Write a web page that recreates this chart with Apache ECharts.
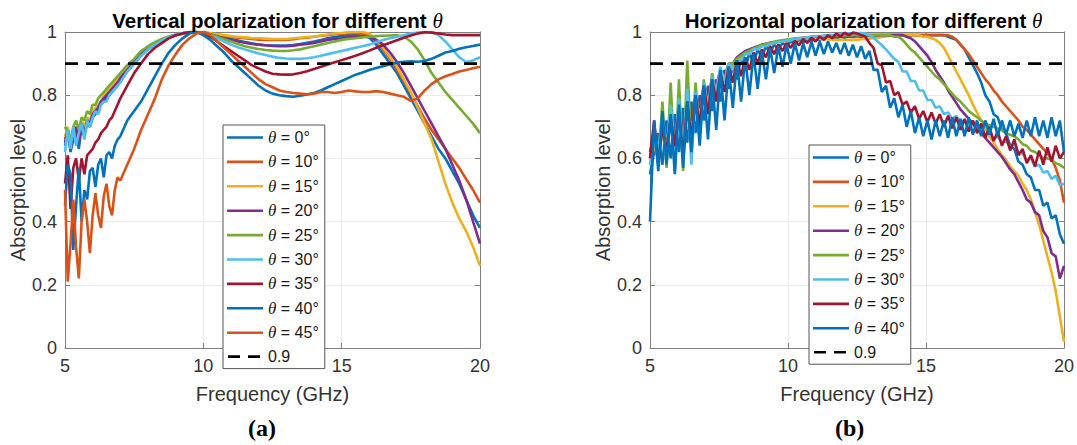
<!DOCTYPE html>
<html><head><meta charset="utf-8">
<script src="https://cdn.jsdelivr.net/npm/echarts@6/dist/echarts.min.js"></script>
<style>html,body{margin:0;padding:0;background:#fff}#c{width:1077px;height:445px}</style>
</head><body><div id="c"></div>
<script>
// ---------- data ----------
const xTicks = [5, 10, 15, 20];
const yTicks = [0, 0.2, 0.4, 0.6, 0.8, 1];
const threshold = 0.9;
const thetaV = ['0', '10', '15', '20', '25', '30', '35', '40', '45'];
const thetaH = ['0', '10', '15', '20', '25', '30', '35', '40'];

const freqV = [5,5.1,5.2,5.3,5.4,5.5,5.6,5.7,5.8,5.9,6,6.1,6.2,6.3,6.4,6.5,6.6,6.7,6.8,6.9,7,
  7.25,7.5,7.75,8,8.25,8.5,8.75,9,9.25,9.5,9.75,10,
  10.25,10.5,10.75,11,11.25,11.5,11.75,12,12.25,12.5,12.75,13,
  13.25,13.5,13.75,14,14.25,14.5,14.75,15,15.25,15.5,15.75,16,
  16.25,16.5,16.75,17,17.25,17.5,17.75,18,18.25,18.5,18.75,19,
  19.25,19.5,19.75,20];
const freqH = Array.from({length: 101}, (_, i) => +(5 + i * 0.15).toFixed(2));

const V0 = [0.64,0.68,0.62,0.66,0.68,0.63,0.70,0.67,0.71,0.70,0.73,0.74,0.76,0.77,0.78,0.79,0.80,0.81,0.82,0.83,0.845,
  0.875,0.90,0.925,0.945,0.96,0.972,0.983,0.99,0.996,1.0,1.0,0.997,
  0.993,0.988,0.983,0.978,0.973,0.968,0.964,0.96,0.958,0.957,0.957,0.957,
  0.959,0.962,0.966,0.97,0.975,0.98,0.984,0.987,0.99,0.99,0.99,0.982,
  0.96,0.93,0.90,0.87,0.83,0.79,0.75,0.71,0.67,0.63,0.60,0.56,
  0.52,0.47,0.42,0.38];
const V10 = [0.66,0.69,0.64,0.68,0.70,0.66,0.71,0.69,0.72,0.71,0.74,0.75,0.76,0.78,0.79,0.80,0.81,0.82,0.83,0.84,0.85,
  0.88,0.905,0.93,0.948,0.962,0.973,0.982,0.99,0.995,0.998,1.0,1.0,
  0.996,0.992,0.988,0.985,0.982,0.98,0.978,0.976,0.975,0.975,0.975,0.975,
  0.977,0.98,0.982,0.985,0.988,0.99,0.993,0.995,0.996,0.996,0.995,0.99,
  0.97,0.945,0.915,0.88,0.845,0.805,0.765,0.725,0.69,0.66,0.63,0.60,
  0.57,0.535,0.50,0.46];
const V15 = [0.67,0.70,0.65,0.69,0.70,0.67,0.72,0.70,0.73,0.72,0.75,0.76,0.77,0.78,0.80,0.81,0.82,0.83,0.84,0.85,0.86,
  0.885,0.91,0.935,0.95,0.965,0.975,0.985,0.99,0.995,1.0,1.0,0.999,
  0.996,0.993,0.99,0.987,0.985,0.983,0.981,0.98,0.979,0.978,0.978,0.978,
  0.98,0.982,0.984,0.986,0.989,0.992,0.995,0.997,0.999,1.0,1.0,0.995,
  0.975,0.95,0.92,0.89,0.85,0.81,0.76,0.71,0.66,0.59,0.52,0.46,
  0.41,0.37,0.32,0.26];
const V20 = [0.65,0.69,0.63,0.67,0.70,0.65,0.71,0.68,0.72,0.71,0.74,0.75,0.76,0.78,0.79,0.80,0.81,0.82,0.83,0.84,0.855,
  0.88,0.905,0.93,0.948,0.962,0.973,0.982,0.99,0.995,0.999,1.0,0.998,
  0.993,0.986,0.98,0.975,0.97,0.966,0.962,0.96,0.958,0.956,0.955,0.955,
  0.957,0.96,0.962,0.965,0.97,0.975,0.978,0.98,0.983,0.985,0.985,0.985,
  0.975,0.96,0.935,0.905,0.87,0.83,0.79,0.75,0.71,0.67,0.63,0.58,
  0.53,0.47,0.40,0.33];
const V25 = [0.70,0.68,0.66,0.70,0.72,0.69,0.73,0.72,0.75,0.74,0.77,0.77,0.79,0.80,0.81,0.82,0.83,0.84,0.85,0.86,0.87,
  0.895,0.915,0.94,0.955,0.968,0.978,0.986,0.992,0.996,1.0,1.0,0.998,
  0.992,0.985,0.977,0.97,0.962,0.955,0.95,0.946,0.943,0.941,0.94,0.94,
  0.942,0.945,0.95,0.955,0.96,0.965,0.97,0.975,0.978,0.98,0.983,0.985,
  0.987,0.988,0.989,0.99,0.985,0.97,0.945,0.91,0.87,0.84,0.81,0.785,
  0.76,0.735,0.71,0.68];
const V30 = [0.62,0.69,0.63,0.70,0.64,0.68,0.71,0.66,0.72,0.70,0.73,0.75,0.74,0.77,0.78,0.78,0.80,0.81,0.82,0.83,0.84,
  0.875,0.90,0.925,0.945,0.96,0.973,0.984,0.992,0.997,1.0,1.0,0.995,
  0.988,0.98,0.97,0.96,0.952,0.945,0.938,0.932,0.927,0.922,0.918,0.916,
  0.915,0.915,0.917,0.92,0.925,0.93,0.935,0.94,0.945,0.95,0.955,0.96,
  0.968,0.975,0.98,0.985,0.99,0.995,0.998,1.0,1.0,0.99,0.97,0.945,
  0.92,0.905,0.91,0.92];
const V35 = [0.52,0.61,0.44,0.57,0.60,0.53,0.60,0.55,0.61,0.62,0.63,0.65,0.66,0.68,0.69,0.70,0.72,0.73,0.75,0.77,0.79,
  0.83,0.87,0.90,0.93,0.95,0.965,0.98,0.99,0.995,1.0,1.0,0.995,
  0.985,0.97,0.955,0.94,0.925,0.91,0.895,0.885,0.875,0.868,0.866,0.865,
  0.866,0.87,0.876,0.883,0.89,0.897,0.904,0.911,0.918,0.925,0.933,0.941,
  0.95,0.958,0.966,0.974,0.982,0.989,0.995,0.999,0.998,0.995,0.992,0.99,
  0.99,0.99,0.99,0.99];
const V40 = [0.45,0.58,0.55,0.31,0.45,0.57,0.40,0.50,0.47,0.56,0.57,0.51,0.58,0.60,0.54,0.61,0.62,0.60,0.64,0.66,0.67,
  0.72,0.75,0.78,0.82,0.86,0.90,0.935,0.96,0.98,0.995,1.0,0.99,
  0.975,0.955,0.935,0.91,0.89,0.87,0.85,0.83,0.815,0.805,0.80,0.797,
  0.795,0.798,0.802,0.807,0.815,0.825,0.835,0.845,0.855,0.865,0.872,0.88,
  0.886,0.892,0.898,0.903,0.906,0.907,0.906,0.908,0.915,0.925,0.935,0.94,
  0.947,0.952,0.956,0.96];
const V45 = [0.50,0.21,0.33,0.47,0.32,0.22,0.40,0.47,0.40,0.30,0.42,0.49,0.42,0.38,0.48,0.52,0.45,0.42,0.50,0.54,0.53,
  0.58,0.63,0.69,0.74,0.79,0.85,0.895,0.93,0.96,0.98,0.995,1.0,
  0.99,0.97,0.95,0.93,0.91,0.89,0.87,0.85,0.835,0.825,0.815,0.81,
  0.807,0.805,0.803,0.805,0.81,0.81,0.807,0.81,0.815,0.812,0.81,0.81,
  0.813,0.81,0.805,0.80,0.795,0.782,0.79,0.815,0.835,0.85,0.86,0.867,
  0.875,0.88,0.885,0.89];

const H0 = [
  0.55,0.62,0.68,0.58,0.72,0.60,0.74,0.62,0.76,0.65,
  0.78,0.68,0.80,0.72,0.83,0.75,0.85,0.78,0.88,0.82,
  0.90,0.85,0.92,0.88,0.935,0.90,0.945,0.92,0.955,0.935,
  0.96,0.945,0.965,0.955,0.97,0.962,0.975,0.968,0.978,0.972,
  0.98,0.975,0.982,0.978,0.984,0.98,0.985,0.982,0.986,0.984,
  0.987,0.985,0.988,0.987,0.989,0.988,0.99,0.989,0.99,0.99,
  0.99,0.99,0.99,0.99,0.99,0.99,0.99,0.99,0.99,0.99,
  0.99,0.99,0.985,0.98,0.975,0.96,0.945,0.92,0.895,0.87,
  0.84,0.80,0.78,0.74,0.73,0.69,0.68,0.64,0.63,0.59,
  0.58,0.55,0.54,0.50,0.50,0.45,0.46,0.41,0.42,0.36,
  0.33];
const H10 = [
  0.60,0.66,0.62,0.70,0.64,0.72,0.66,0.74,0.69,0.76,
  0.72,0.79,0.75,0.82,0.79,0.84,0.83,0.87,0.86,0.89,
  0.90,0.91,0.925,0.93,0.94,0.945,0.95,0.955,0.96,0.963,
  0.966,0.969,0.972,0.974,0.976,0.978,0.98,0.981,0.982,0.983,
  0.984,0.985,0.986,0.987,0.988,0.988,0.989,0.989,0.99,0.99,
  0.99,0.99,0.99,0.99,0.99,0.99,0.99,0.99,0.99,0.99,
  0.99,0.99,0.99,0.99,0.99,0.99,0.99,0.99,0.99,0.99,
  0.99,0.99,0.99,0.985,0.975,0.96,0.945,0.93,0.91,0.89,
  0.87,0.85,0.835,0.815,0.80,0.78,0.765,0.75,0.735,0.72,
  0.70,0.69,0.675,0.66,0.645,0.63,0.615,0.60,0.57,0.53,
  0.46];
const H15 = [
  0.58,0.64,0.60,0.68,0.63,0.71,0.65,0.73,0.68,0.75,
  0.71,0.78,0.74,0.81,0.78,0.84,0.82,0.86,0.85,0.885,
  0.895,0.905,0.92,0.93,0.94,0.945,0.95,0.955,0.96,0.962,
  0.965,0.968,0.97,0.972,0.974,0.976,0.977,0.978,0.979,0.98,
  0.98,0.979,0.978,0.977,0.976,0.975,0.975,0.975,0.975,0.975,
  0.976,0.977,0.978,0.979,0.98,0.982,0.984,0.986,0.988,0.99,
  0.99,0.99,0.99,0.99,0.99,0.99,0.985,0.985,0.98,0.975,
  0.965,0.95,0.925,0.90,0.875,0.85,0.825,0.80,0.77,0.745,
  0.72,0.695,0.67,0.65,0.63,0.61,0.595,0.575,0.56,0.545,
  0.52,0.50,0.47,0.43,0.39,0.34,0.29,0.24,0.18,0.10,
  0.02];
const H20 = [
  0.62,0.68,0.60,0.72,0.63,0.74,0.66,0.76,0.68,0.78,
  0.72,0.80,0.76,0.83,0.80,0.85,0.83,0.88,0.86,0.90,
  0.90,0.92,0.93,0.94,0.945,0.95,0.955,0.96,0.963,0.966,
  0.968,0.97,0.972,0.974,0.976,0.978,0.98,0.981,0.982,0.984,
  0.985,0.986,0.987,0.988,0.989,0.99,0.99,0.99,0.99,0.99,
  0.99,0.99,0.99,0.99,0.99,0.99,0.99,0.99,0.99,0.99,
  0.99,0.99,0.985,0.98,0.97,0.955,0.94,0.925,0.905,0.88,
  0.86,0.84,0.815,0.795,0.775,0.755,0.74,0.725,0.71,0.695,
  0.68,0.665,0.65,0.635,0.62,0.605,0.585,0.565,0.55,0.525,
  0.50,0.47,0.46,0.43,0.42,0.37,0.35,0.30,0.29,0.22,
  0.26];
const H25 = [
  0.60,0.68,0.58,0.78,0.57,0.84,0.56,0.85,0.56,0.91,
  0.62,0.84,0.68,0.85,0.74,0.87,0.80,0.88,0.85,0.90,
  0.90,0.915,0.925,0.935,0.94,0.948,0.953,0.958,0.962,0.966,
  0.969,0.972,0.974,0.976,0.978,0.98,0.981,0.982,0.983,0.984,
  0.985,0.986,0.987,0.988,0.988,0.989,0.989,0.99,0.99,0.99,
  0.99,0.99,0.99,0.99,0.99,0.99,0.99,0.99,0.99,0.985,
  0.985,0.975,0.96,0.945,0.935,0.92,0.905,0.89,0.875,0.86,
  0.85,0.835,0.82,0.805,0.79,0.78,0.765,0.75,0.74,0.73,
  0.72,0.71,0.705,0.70,0.695,0.69,0.68,0.675,0.67,0.66,
  0.645,0.64,0.625,0.62,0.61,0.60,0.60,0.595,0.585,0.58,
  0.57];
const H30 = [
  0.58,0.66,0.62,0.74,0.60,0.77,0.62,0.79,0.60,0.82,
  0.58,0.81,0.70,0.84,0.76,0.86,0.81,0.89,0.84,0.90,
  0.88,0.91,0.91,0.93,0.93,0.945,0.945,0.955,0.955,0.962,
  0.965,0.968,0.97,0.973,0.975,0.977,0.979,0.981,0.983,0.985,
  0.986,0.987,0.988,0.99,0.99,0.992,0.993,0.994,0.995,0.996,
  0.997,0.997,0.995,0.99,0.982,0.97,0.958,0.945,0.93,0.915,
  0.905,0.875,0.875,0.845,0.845,0.815,0.815,0.785,0.785,0.76,
  0.765,0.74,0.745,0.725,0.735,0.715,0.72,0.70,0.71,0.69,
  0.695,0.675,0.685,0.66,0.67,0.65,0.655,0.635,0.645,0.62,
  0.615,0.595,0.60,0.575,0.58,0.555,0.56,0.535,0.545,0.515,
  0.52];
const H35 = [
  0.60,0.72,0.58,0.70,0.62,0.73,0.64,0.75,0.60,0.78,
  0.66,0.80,0.70,0.83,0.74,0.85,0.78,0.87,0.81,0.89,
  0.84,0.91,0.86,0.92,0.88,0.935,0.90,0.945,0.92,0.955,
  0.93,0.96,0.94,0.965,0.95,0.972,0.958,0.978,0.965,0.982,
  0.97,0.986,0.975,0.99,0.98,0.995,0.985,0.998,0.99,0.998,
  0.995,0.99,0.985,0.965,0.95,0.90,0.895,0.84,0.845,0.80,
  0.81,0.77,0.78,0.745,0.765,0.725,0.75,0.715,0.745,0.71,
  0.74,0.70,0.735,0.695,0.73,0.69,0.725,0.685,0.72,0.68,
  0.71,0.665,0.70,0.655,0.685,0.64,0.67,0.625,0.66,0.61,
  0.63,0.585,0.61,0.575,0.625,0.58,0.635,0.59,0.64,0.60,
  0.62];
const H40 = [
  0.40,0.72,0.56,0.75,0.58,0.74,0.55,0.77,0.57,0.78,
  0.62,0.80,0.64,0.83,0.66,0.85,0.69,0.88,0.72,0.89,
  0.76,0.91,0.78,0.92,0.80,0.93,0.82,0.94,0.85,0.95,
  0.87,0.955,0.89,0.96,0.90,0.965,0.91,0.965,0.92,0.97,
  0.925,0.97,0.93,0.97,0.935,0.965,0.93,0.965,0.925,0.96,
  0.92,0.955,0.915,0.94,0.88,0.88,0.81,0.83,0.76,0.79,
  0.73,0.77,0.70,0.75,0.68,0.73,0.67,0.72,0.66,0.72,
  0.67,0.72,0.665,0.73,0.67,0.725,0.67,0.73,0.675,0.72,
  0.67,0.72,0.675,0.725,0.67,0.72,0.675,0.72,0.67,0.71,
  0.665,0.72,0.67,0.73,0.67,0.72,0.665,0.73,0.67,0.72,
  0.62];

const valuesV = [V0, V10, V15, V20, V25, V30, V35, V40, V45];
const valuesH = [H0, H10, H15, H20, H25, H30, H35, H40];

// ---------- style ----------
const colors = ['#0072BD', '#D95319', '#EDB120', '#7E2F8E', '#77AC30', '#4DBEEE', '#A2142F', '#0072BD', '#D95319'];
const FONT = '"Liberation Sans", Arial, Helvetica, sans-serif';
const SERIF = '"Liberation Serif", "Times New Roman", serif';
const AX = '#7f7f7f', TXT = '#333333';

const bad = [];
valuesV.forEach((a, i) => { if (a.length !== freqV.length) bad.push('V' + thetaV[i] + ':' + a.length); });
valuesH.forEach((a, i) => { if (a.length !== freqH.length) bad.push('H' + thetaH[i] + ':' + a.length); });
if (bad.length) throw new Error('length mismatch ' + bad.join(' ') + ' freqV ' + freqV.length);

const grids = [
  {left: 65, top: 32, width: 415, height: 316},
  {left: 650, top: 32, width: 417, height: 316}
];

function xAxes(g) {
  return [
    {gridIndex: g, type: 'value', min: 5, max: 20, interval: 5, position: 'bottom',
     axisLine: {show: true, onZero: false, lineStyle: {color: AX, width: 1}},
     axisTick: {show: true, inside: true, length: 5, lineStyle: {color: AX}},
     axisLabel: {fontSize: 18, color: TXT, margin: 9, fontFamily: FONT,
       formatter: v => xTicks.includes(v) ? String(v) : ''},
     splitLine: {show: true, lineStyle: {color: '#ebebeb', width: 1}},
     name: 'Frequency (GHz)', nameLocation: 'middle', nameGap: 36,
     nameTextStyle: {fontSize: 20, color: TXT, fontFamily: FONT}},
    {gridIndex: g, type: 'value', min: 5, max: 20, interval: 5, position: 'top',
     axisLine: {show: true, onZero: false, lineStyle: {color: AX, width: 1}},
     axisTick: {show: true, inside: true, length: 5, lineStyle: {color: AX}},
     axisLabel: {show: false}, splitLine: {show: false}}
  ];
}
function yAxes(g) {
  return [
    {gridIndex: g, type: 'value', min: 0, max: 1, interval: 0.2, position: 'left',
     axisLine: {show: true, onZero: false, lineStyle: {color: AX, width: 1}},
     axisTick: {show: true, inside: true, length: 5, lineStyle: {color: AX}},
     axisLabel: {fontSize: 18, color: TXT, margin: 8, fontFamily: FONT,
       formatter: v => { const t = yTicks.find(k => Math.abs(k - v) < 1e-9); return t === undefined ? '' : String(t); }},
     splitLine: {show: true, lineStyle: {color: '#ebebeb', width: 1}},
     name: 'Absorption level', nameLocation: 'middle', nameGap: 36,
     nameTextStyle: {fontSize: 20, color: TXT, fontFamily: FONT}},
    {gridIndex: g, type: 'value', min: 0, max: 1, interval: 0.2, position: 'right',
     axisLine: {show: true, onZero: false, lineStyle: {color: AX, width: 1}},
     axisTick: {show: true, inside: true, length: 5, lineStyle: {color: AX}},
     axisLabel: {show: false}, splitLine: {show: false}}
  ];
}

const series = [];
thetaV.forEach((t, i) => series.push({
  name: 'θ = ' + t + '°', type: 'line', xAxisIndex: 0, yAxisIndex: 0,
  symbol: 'none', smooth: false, color: colors[i],
  lineStyle: {width: 2.6, color: colors[i]},
  data: freqV.map((f, k) => [f, valuesV[i][k]])
}));
series.push({name: '0.9', type: 'line', xAxisIndex: 0, yAxisIndex: 0, symbol: 'none', color: '#000',
  lineStyle: {width: 2.6, color: '#000', type: [13, 8]}, data: [[5, threshold], [20, threshold]]});
thetaH.forEach((t, i) => series.push({
  name: 'θ = ' + t + '°', type: 'line', xAxisIndex: 2, yAxisIndex: 2,
  symbol: 'none', smooth: false, color: colors[i],
  lineStyle: {width: 2.6, color: colors[i]},
  data: freqH.map((f, k) => [f, valuesH[i][k]])
}));
series.push({name: '0.9', type: 'line', xAxisIndex: 2, yAxisIndex: 2, symbol: 'none', color: '#000',
  lineStyle: {width: 2.6, color: '#000', type: [13, 8]}, data: [[5, threshold], [20, threshold]]});

// legend icons: a thin horizontal bar (solid or dashed) inside a 36x14 box
const ICON_SOLID = 'path://M0,0L0.01,0L0.01,0.01L0,0.01Z M0,5.7L36,5.7L36,8.3L0,8.3Z M35.99,13.99L36,13.99L36,14L35.99,14Z';
const ICON_DASH = 'path://M0,0L0.01,0L0.01,0.01L0,0.01Z M1,5.7L13,5.7L13,8.3L1,8.3Z M21,5.7L33,5.7L33,8.3L21,8.3Z M35.99,13.99L36,13.99L36,14L35.99,14Z';

function legend(names, left, top) {
  return {
    data: names.map(n => ({name: n, icon: n === '0.9' ? ICON_DASH : ICON_SOLID})),
    orient: 'vertical', left: left, top: top,
    itemWidth: 36, itemHeight: 14, itemGap: 7.4, padding: [4, 6, 4, 4],
    backgroundColor: '#fff', borderColor: '#555', borderWidth: 1, borderRadius: 0,
    selectedMode: false,
    formatter: n => n === '0.9' ? n : '{t|θ}' + n.slice(1),
    textStyle: {fontSize: 16, color: '#1a1a1a', fontFamily: FONT,
      rich: {t: {fontSize: 17, fontFamily: SERIF, fontStyle: 'italic', color: '#1a1a1a'}}}
  };
}
const namesV = thetaV.map(t => 'θ = ' + t + '°').concat(['0.9']);
const namesH = thetaH.map(t => 'θ = ' + t + '°').concat(['0.9']);

const titleStyle = {fontSize: 20.5, fontWeight: 'bold', color: '#000', fontFamily: FONT,
  rich: {t: {fontSize: 21, fontFamily: SERIF, fontStyle: 'italic', fontWeight: 'normal', color: '#000'}}};

const option = {
  animation: false,
  backgroundColor: '#fff',
  title: [
    {text: 'Vertical polarization for different {t|θ}', left: 272.5, top: 5, textAlign: 'center', textStyle: titleStyle},
    {text: 'Horizontal polarization for different {t|θ}', left: 858.5, top: 5, textAlign: 'center', textStyle: titleStyle}
  ],
  grid: grids,
  xAxis: xAxes(0).concat(xAxes(1)),
  yAxis: yAxes(0).concat(yAxes(1)),
  legend: [legend(namesV, 223, 125), legend(namesH, 809, 145)],
  series: series,
  graphic: [
    {type: 'text', left: 248, top: 416, style: {text: '(a)', fontSize: 24, fontWeight: 'bold', fontFamily: SERIF, fill: '#000'}},
    {type: 'text', left: 835, top: 416, style: {text: '(b)', fontSize: 24, fontWeight: 'bold', fontFamily: SERIF, fill: '#000'}}
  ]
};

const chart = echarts.init(document.getElementById('c'), null, {renderer: 'svg', width: 1077, height: 445});
chart.setOption(option);
</script>
</body></html>
